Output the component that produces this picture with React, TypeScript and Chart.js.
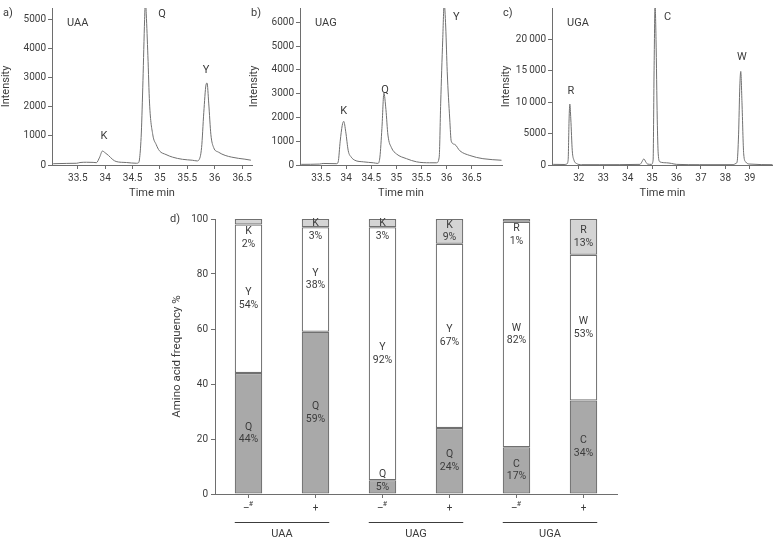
import React, { useEffect, useRef } from 'react';
import { Chart, registerables } from 'chart.js';
Chart.register(...registerables);

const FONT = 'Roboto, "DejaVu Sans", sans-serif';
const TEXT = '#3c3c3c';
const AXIS = '#6e6e6e';
const TRACE = '#707070';

// ---------- chromatogram a) UAA ----------
const uaaTime = [33.03, 33.06, 33.3, 33.48, 33.54, 33.66, 33.78, 33.84, 33.9, 33.95, 34.0, 34.06, 34.14, 34.2, 34.39, 34.57, 34.61, 34.63, 34.66, 34.69, 34.72, 34.735, 34.75, 34.78, 34.81, 34.87, 34.93, 34.99, 35.11, 35.23, 35.41, 35.59, 35.68, 35.71, 35.76, 35.8, 35.84, 35.86, 35.89, 35.93, 35.98, 36.07, 36.19, 36.31, 36.43, 36.55, 36.66];
const uaaIntensity = [45, 45, 55, 60, 85, 95, 90, 80, 270, 480, 420, 330, 185, 120, 85, 60, 80, 250, 1100, 2900, 5000, 5700, 5200, 3760, 2130, 1035, 710, 490, 360, 270, 196, 164, 140, 170, 600, 1800, 2750, 2820, 2130, 1040, 600, 440, 330, 270, 230, 200, 165];
const uaaXTicks = [33.5, 34, 34.5, 35, 35.5, 36, 36.5];
const uaaYTicks = [0, 1000, 2000, 3000, 4000, 5000];
const uaaYTickLabels = ['0', '1000', '2000', '3000', '4000', '5000'];
const uaaPeakNames = ['K', 'Q', 'Y'];
const uaaPeakTime = [33.98, 35.04, 35.84];
const uaaPeakLabelValue = [980, 5170, 3270];

// ---------- chromatogram b) UAG ----------
const uagTime = [33.08, 33.11, 33.47, 33.54, 33.81, 33.84, 33.88, 33.92, 33.95, 33.99, 34.04, 34.1, 34.17, 34.34, 34.54, 34.63, 34.67, 34.71, 34.75, 34.79, 34.83, 34.9, 35.0, 35.2, 35.4, 35.66, 35.8, 35.85, 35.88, 35.92, 35.95, 35.98, 36.01, 36.06, 36.09, 36.16, 36.26, 36.46, 36.72, 37.09];
const uagIntensity = [25, 27, 40, 65, 55, 133, 1000, 1660, 1835, 1400, 600, 330, 200, 133, 93, 67, 330, 1530, 3020, 2330, 1260, 730, 465, 266, 133, 93, 93, 330, 2600, 5250, 6800, 5800, 3920, 1930, 1000, 865, 600, 400, 266, 200];
const uagXTicks = [33.5, 34, 34.5, 35, 35.5, 36, 36.5];
const uagYTicks = [0, 1000, 2000, 3000, 4000, 5000, 6000];
const uagYTickLabels = ['0', '1000', '2000', '3000', '4000', '5000', '6000'];
const uagPeakNames = ['K', 'Q', 'Y'];
const uagPeakTime = [33.95, 34.77, 36.19];
const uagPeakLabelValue = [2280, 3160, 6200];

// ---------- chromatogram c) UGA ----------
const ugaTime = [30.92, 30.95, 31.43, 31.5, 31.56, 31.6, 31.63, 31.67, 31.73, 31.8, 31.9, 32.11, 32.86, 34.5, 34.56, 34.66, 34.74, 34.81, 34.97, 35.04, 35.08, 35.12, 35.16, 35.21, 35.25, 35.32, 35.59, 35.79, 36.0, 36.95, 38.32, 38.43, 38.48, 38.54, 38.59, 38.63, 38.68, 38.75, 38.83, 39.0, 39.93];
const ugaIntensity = [100, 100, 80, 150, 760, 7340, 9700, 7340, 2280, 760, 250, 50, 50, 100, 350, 960, 500, 150, 100, 760, 15000, 25500, 20000, 7300, 1770, 500, 350, 250, 100, 50, 50, 250, 500, 4800, 12400, 14900, 9900, 1770, 500, 150, 50];
const ugaXTicks = [32, 33, 34, 35, 36, 37, 38, 39];
const ugaYTicks = [0, 5000, 10000, 15000, 20000];
const ugaYTickLabels = ['0', '5000', '10\u2009000', '15\u2009000', '20\u2009000'];
const ugaPeakNames = ['R', 'C', 'W'];
const ugaPeakTime = [31.67, 35.63, 38.68];
const ugaPeakLabelValue = [11800, 23500, 17100];

// ---------- d) amino acid frequency ----------
const categories = ['–#', '+', '–#', '+', '–#', '+'];
const codonGroups = ['UAA', 'UAG', 'UGA'];
const bottomAA = ['Q', 'Q', 'Q', 'Q', 'C', 'C'];
const bottomValues = [44, 59, 5, 24, 17, 34];
const middleAA = ['Y', 'Y', 'Y', 'Y', 'W', 'W'];
const middleValues = [54, 38, 92, 67, 82, 53];
const topAA = ['K', 'K', 'K', 'K', 'R', 'R'];
const topValues = [2, 3, 3, 9, 1, 13];
const freqTicks = [0, 20, 40, 60, 80, 100];

type ChromProps = {
  left: number; width: number; rightPad: number;
  letter: string; codon: string;
  time: number[]; intensity: number[];
  xMin: number; xMax: number; yMax: number;
  xTicks: number[]; yTicks: number[]; yTickLabels: string[];
  peakNames: string[]; peakTime: number[]; peakLabelValue: number[];
};

function Chromatogram(p: ChromProps) {
  const ref = useRef<HTMLCanvasElement>(null);
  useEffect(() => {
    const annot = {
      id: 'annot',
      afterDraw(chart: any) {
        const { ctx, chartArea, scales } = chart;
        ctx.save();
        ctx.fillStyle = TEXT;
        ctx.font = `11px ${FONT}`;
        ctx.textBaseline = 'middle';
        ctx.textAlign = 'left';
        ctx.fillText(p.letter, chartArea.left - 49, 13);
        ctx.fillText(p.codon, chartArea.left + 15, 23);
        ctx.textAlign = 'center';
        p.peakNames.forEach((n, i) => {
          ctx.fillText(n, scales.x.getPixelForValue(p.peakTime[i]), scales.y.getPixelForValue(p.peakLabelValue[i]));
        });
        ctx.restore();
      },
    };
    const chart = new Chart(ref.current as HTMLCanvasElement, {
      type: 'line',
      data: {
        datasets: [{
          data: p.time.map((t, i) => ({ x: t, y: p.intensity[i] })),
          borderColor: TRACE, borderWidth: 1, pointRadius: 0,
          cubicInterpolationMode: 'monotone', fill: false,
        }],
      },
      options: {
        animation: false, responsive: false, events: [],
        layout: { padding: { top: 0, right: p.rightPad, bottom: 0, left: 0 } },
        plugins: { legend: { display: false }, tooltip: { enabled: false } },
        scales: {
          x: {
            type: 'linear', min: p.xMin, max: p.xMax,
            afterBuildTicks: (a: any) => { a.ticks = p.xTicks.map((v) => ({ value: v })); },
            afterFit: (s: any) => { s.height = 35; },
            ticks: { callback: (v: any) => String(v), font: { family: FONT, size: 10 }, color: TEXT, padding: 3, maxRotation: 0, autoSkip: false },
            grid: { drawOnChartArea: false, tickLength: 4, color: AXIS },
            border: { display: true, color: AXIS },
            title: { display: true, text: 'Time min', font: { family: FONT, size: 11 }, color: TEXT, padding: { top: 0, bottom: 0 } },
          },
          y: {
            type: 'linear', min: 0, max: p.yMax,
            afterBuildTicks: (a: any) => { a.ticks = p.yTicks.map((v) => ({ value: v })); },
            afterFit: (s: any) => { s.width = 52; },
            ticks: {
              callback: (v: any) => { const k = p.yTicks.indexOf(v); return k >= 0 ? p.yTickLabels[k] : ''; },
              font: { family: FONT, size: 10 }, color: TEXT, padding: 2, autoSkip: false,
            },
            grid: { drawOnChartArea: false, tickLength: 4, color: AXIS },
            border: { display: true, color: AXIS },
            title: { display: true, text: 'Intensity', font: { family: FONT, size: 11 }, color: TEXT, padding: { top: 0, bottom: 0 } },
          },
        },
      } as any,
      plugins: [annot],
    });
    return () => chart.destroy();
  }, []);
  return <canvas ref={ref} width={p.width} height={200} style={{ position: 'absolute', left: p.left, top: 0, width: p.width, height: 200 }} />;
}

function FrequencyChart() {
  const ref = useRef<HTMLCanvasElement>(null);
  useEffect(() => {
    const labels = {
      id: 'barLabels',
      afterDatasetsDraw(chart: any) {
        const { ctx } = chart;
        const m0 = chart.getDatasetMeta(0).data;
        const m1 = chart.getDatasetMeta(1).data;
        const m2 = chart.getDatasetMeta(2).data;
        const gap = 12.5;
        ctx.save();
        ctx.fillStyle = TEXT;
        ctx.font = `10.5px ${FONT}`;
        ctx.textAlign = 'center';
        ctx.textBaseline = 'middle';
        for (let i = 0; i < categories.length; i++) {
          // bottom
          const b = m0[i];
          const bc = (b.y + b.base) / 2;
          if (bottomValues[i] >= 10) {
            ctx.fillText(bottomAA[i], b.x, bc - gap / 2);
            ctx.fillText(bottomValues[i] + '%', b.x, bc + gap / 2);
          } else {
            ctx.fillText(bottomAA[i], b.x, b.y - 6);
            ctx.fillText(bottomValues[i] + '%', b.x, bc);
          }
          // middle
          const mm = m1[i];
          const mc = (mm.y + mm.base) / 2;
          ctx.fillText(middleAA[i], mm.x, mc - gap / 2);
          ctx.fillText(middleValues[i] + '%', mm.x, mc + gap / 2);
          // top
          const t = m2[i];
          const tc = (t.y + t.base) / 2;
          if (topValues[i] >= 8) {
            ctx.fillText(topAA[i], t.x, tc - gap / 2);
            ctx.fillText(topValues[i] + '%', t.x, tc + gap / 2);
          } else if (topValues[i] >= 3) {
            ctx.fillText(topAA[i], t.x, tc);
            ctx.fillText(topValues[i] + '%', t.x, t.base + 9);
          } else {
            ctx.fillText(topAA[i], t.x, t.base + 7);
            ctx.fillText(topValues[i] + '%', t.x, t.base + 7 + gap);
          }
        }
        ctx.restore();
      },
      afterDraw(chart: any) {
        const { ctx, chartArea, scales } = chart;
        const m0 = chart.getDatasetMeta(0).data;
        ctx.save();
        ctx.fillStyle = TEXT;
        ctx.textBaseline = 'middle';
        ctx.font = `11px ${FONT}`;
        ctx.textAlign = 'left';
        ctx.fillText('d)', chartArea.left - 45, chartArea.top);
        // category tick labels
        const yTick = chartArea.bottom + 13;
        categories.forEach((c, i) => {
          const x = scales.x.getPixelForValue(i);
          if (c.startsWith('–')) {
            ctx.font = `10px ${FONT}`;
            const w1 = ctx.measureText('–').width;
            ctx.font = `7px ${FONT}`;
            const w2 = ctx.measureText('#').width;
            const start = x - (w1 + w2) / 2;
            ctx.font = `10px ${FONT}`;
            ctx.textAlign = 'left';
            ctx.fillText('–', start, yTick + 1);
            ctx.font = `7px ${FONT}`;
            ctx.fillText(c.slice(1), start + w1 - 1, yTick - 3);
          } else {
            ctx.font = `10px ${FONT}`;
            ctx.textAlign = 'center';
            ctx.fillText(c, x, yTick + 1);
          }
        });
        // group lines and labels
        ctx.strokeStyle = TEXT;
        ctx.lineWidth = 1;
        ctx.font = `11px ${FONT}`;
        ctx.textAlign = 'center';
        codonGroups.forEach((g, k) => {
          const a = m0[2 * k];
          const b = m0[2 * k + 1];
          const x1 = a.x - a.width / 2;
          const x2 = b.x + b.width / 2;
          const yl = Math.round(chartArea.bottom + 28) + 0.5;
          ctx.beginPath();
          ctx.moveTo(x1, yl);
          ctx.lineTo(x2, yl);
          ctx.stroke();
          ctx.fillText(g, (x1 + x2) / 2, chartArea.bottom + 40);
        });
        ctx.restore();
      },
    };
    const common = { borderColor: '#707070', borderWidth: 1.2, borderSkipped: false, barPercentage: 0.41, categoryPercentage: 1 };
    const chart = new Chart(ref.current as HTMLCanvasElement, {
      type: 'bar',
      data: {
        labels: categories,
        datasets: [
          { data: bottomValues, backgroundColor: '#a9a9a9', ...common },
          { data: middleValues, backgroundColor: '#ffffff', ...common },
          { data: topValues, backgroundColor: '#d4d4d4', ...common },
        ],
      },
      options: {
        animation: false, responsive: false, events: [],
        layout: { padding: { top: 19, right: 5, bottom: 0, left: 0 } },
        plugins: { legend: { display: false }, tooltip: { enabled: false } },
        scales: {
          x: {
            stacked: true,
            afterFit: (s: any) => { s.height = 46; },
            ticks: { display: false },
            grid: { drawOnChartArea: false, offset: false, tickLength: 4, color: AXIS },
            border: { display: true, color: AXIS },
          },
          y: {
            stacked: true, min: 0, max: 100,
            afterBuildTicks: (a: any) => { a.ticks = freqTicks.map((v) => ({ value: v })); },
            afterFit: (s: any) => { s.width = 55; },
            ticks: { font: { family: FONT, size: 10 }, color: TEXT, padding: 3 },
            grid: { drawOnChartArea: false, tickLength: 4, color: AXIS },
            border: { display: true, color: AXIS },
            title: { display: true, text: 'Amino acid frequency %', font: { family: FONT, size: 11.5 }, color: TEXT, padding: { top: 10, bottom: 0 } },
          },
        },
      } as any,
      plugins: [labels],
    });
    return () => chart.destroy();
  }, []);
  return <canvas ref={ref} width={462} height={340} style={{ position: 'absolute', left: 160, top: 200, width: 462, height: 340 }} />;
}

export default function App() {
  return (
    <div style={{ position: 'absolute', left: 0, top: 0, width: 773, height: 540, background: '#fff', overflow: 'hidden' }}>
      <Chromatogram left={0} width={260} rightPad={8} letter="a)" codon="UAA" time={uaaTime} intensity={uaaIntensity}
        xMin={33.03} xMax={36.68} yMax={5400} xTicks={uaaXTicks} yTicks={uaaYTicks} yTickLabels={uaaYTickLabels}
        peakNames={uaaPeakNames} peakTime={uaaPeakTime} peakLabelValue={uaaPeakLabelValue} />
      <Chromatogram left={248} width={262} rightPad={8} letter="b)" codon="UAG" time={uagTime} intensity={uagIntensity}
        xMin={33.08} xMax={37.1} yMax={6600} xTicks={uagXTicks} yTicks={uagYTicks} yTickLabels={uagYTickLabels}
        peakNames={uagPeakNames} peakTime={uagPeakTime} peakLabelValue={uagPeakLabelValue} />
      <Chromatogram left={500} width={273} rightPad={0} letter="c)" codon="UGA" time={ugaTime} intensity={ugaIntensity}
        xMin={30.9} xMax={39.95} yMax={25000} xTicks={ugaXTicks} yTicks={ugaYTicks} yTickLabels={ugaYTickLabels}
        peakNames={ugaPeakNames} peakTime={ugaPeakTime} peakLabelValue={ugaPeakLabelValue} />
      <FrequencyChart />
    </div>
  );
}
